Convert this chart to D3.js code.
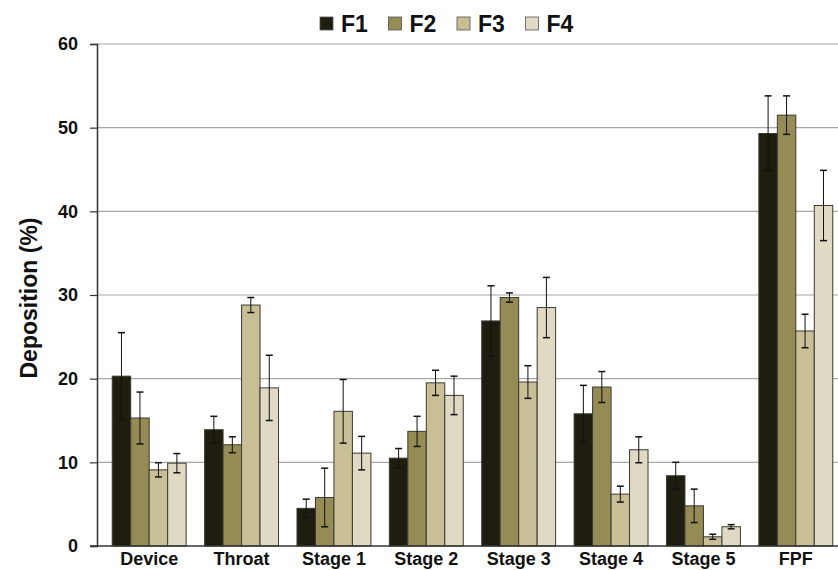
<!DOCTYPE html>
<html><head><meta charset="utf-8">
<script src="https://cdn.jsdelivr.net/npm/d3@7/dist/d3.min.js"></script>
<style>body{margin:0;background:#fff}svg{display:block}text{font-family:"Liberation Sans",Arial,sans-serif;font-weight:bold}</style>
</head><body><svg id="c" width="838" height="570"></svg>
<script>
const categories = ["Device","Throat","Stage 1","Stage 2","Stage 3","Stage 4","Stage 5","FPF"];
const seriesNames = ["F1","F2","F3","F4"];
const F1 = [20.3,13.9,4.5,10.5,26.9,15.8,8.4,49.3];
const F2 = [15.3,12.1,5.8,13.7,29.7,19.0,4.8,51.5];
const F3 = [9.1,28.8,16.1,19.5,19.6,6.2,1.1,25.7];
const F4 = [9.9,18.9,11.1,18.0,28.5,11.5,2.3,40.7];
const F1err = [5.2,1.6,1.1,1.15,4.2,3.4,1.6,4.5];
const F2err = [3.1,0.95,3.5,1.8,0.55,1.85,2.0,2.3];
const F3err = [0.85,0.9,3.8,1.5,1.95,0.95,0.3,2.0];
const F4err = [1.15,3.9,2.0,2.3,3.6,1.55,0.25,4.2];
const yTicks = [0,10,20,30,40,50,60];

const values = [F1,F2,F3,F4];
const errs = [F1err,F2err,F3err,F4err];
const colors = ["#1f1d10","#948b55","#c9bf97","#e0dac4"];

const svg = d3.select("#c");
const axisX = 97, yBottom = 546, yTop = 44;
const y = d3.scaleLinear().domain([0,60]).range([yBottom,yTop]);
const x0 = d3.scaleBand().domain(categories).range([103,842]).paddingInner(0.2).paddingOuter(0.1);
const x1 = d3.scaleBand().domain(seriesNames).range([0,x0.bandwidth()]);

// gridlines
svg.append("g").selectAll("line").data(yTicks.filter(d=>d>0)).join("line")
  .attr("x1",axisX).attr("x2",838).attr("y1",d=>y(d)).attr("y2",d=>y(d))
  .attr("stroke","#a8a8a8").attr("stroke-width",1.2);

// bars
const groups = svg.append("g").selectAll("g").data(categories).join("g")
  .attr("transform",d=>`translate(${x0(d)},0)`);
seriesNames.forEach((s,si)=>{
  groups.append("rect")
    .attr("x",x1(s)).attr("width",x1.bandwidth())
    .attr("y",(d,i)=>y(values[si][i])).attr("height",(d,i)=>yBottom-y(values[si][i]))
    .attr("fill",colors[si]).attr("stroke","#3b3a30").attr("stroke-width",1);
});
// error bars
seriesNames.forEach((s,si)=>{
  const cx = x1(s)+x1.bandwidth()/2;
  groups.each(function(d,i){
    const g = d3.select(this);
    const v = values[si][i], e = errs[si][i];
    g.append("line").attr("x1",cx).attr("x2",cx).attr("y1",y(v+e)).attr("y2",y(v-e)).attr("stroke","#111").attr("stroke-width",1);
    [v+e,v-e].forEach(t=>g.append("line").attr("x1",cx-3.5).attr("x2",cx+3.5).attr("y1",y(t)).attr("y2",y(t)).attr("stroke","#111").attr("stroke-width",1.5));
  });
});

// y axis
const yAxis = svg.append("g").attr("transform",`translate(${axisX},0)`)
  .call(d3.axisLeft(y).tickValues(yTicks).tickSize(7).tickPadding(12));
yAxis.select(".domain").attr("stroke","#333").attr("stroke-width",1.5);
yAxis.selectAll(".tick line").attr("stroke","#333").attr("stroke-width",1.2);
yAxis.selectAll(".tick text").attr("font-size",18).attr("fill","#111").style("font-weight","bold");
// baseline
svg.append("line").attr("x1",axisX-7).attr("x2",838).attr("y1",yBottom).attr("y2",yBottom).attr("stroke","#333").attr("stroke-width",1.5);

// category labels
svg.append("g").selectAll("text").data(categories).join("text")
  .attr("x",d=>x0(d)+x0.bandwidth()/2).attr("y",565).attr("text-anchor","middle")
  .attr("font-size",18).attr("fill","#111").text(d=>d);

// y title
svg.append("text").attr("transform","translate(37,298) rotate(-90)").attr("text-anchor","middle")
  .attr("font-size",23).attr("fill","#111").text("Deposition (%)");

// legend
const lg = svg.append("g").selectAll("g").data(seriesNames).join("g")
  .attr("transform",(d,i)=>`translate(${320+i*68.5},0)`);
lg.append("rect").attr("x",0).attr("y",17).attr("width",13).attr("height",13)
  .attr("fill",(d,i)=>colors[i]).attr("stroke","#555").attr("stroke-width",0.8);
lg.append("text").attr("x",21).attr("y",32).attr("font-size",23).attr("fill","#111").text(d=>d);
</script></body></html>
